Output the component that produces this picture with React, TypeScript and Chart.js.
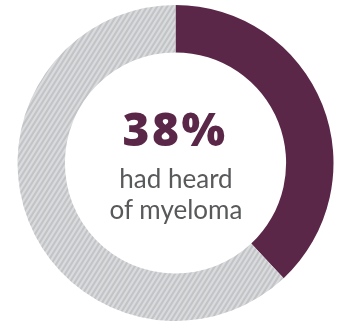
import React, { useEffect, useRef } from "react";
import { Chart, registerables } from "chart.js";

Chart.register(...registerables);

const categories = ["Had heard of myeloma", "Had not heard"];
const values = [38, 62];
const headline = "38%";
const subLines = ["had heard", "of myeloma"];

const PURPLE = "#5b2749";
const STRIPE_LIGHT = "#dadbdd";
const STRIPE_DARK = "#c3c4c7";
const TEXT_GREY = "#58595b";

function makeStripePattern(): CanvasPattern | string {
  const W = 5;
  const H = 8;
  const c = document.createElement("canvas");
  c.width = W;
  c.height = H;
  const ctx = c.getContext("2d");
  if (!ctx) return STRIPE_LIGHT;
  ctx.fillStyle = STRIPE_LIGHT;
  ctx.fillRect(0, 0, W, H);
  ctx.fillStyle = STRIPE_DARK;
  for (let k = -3; k <= 3; k++) {
    const ox = k * W;
    ctx.beginPath();
    ctx.moveTo(ox + 0, H);
    ctx.lineTo(ox + 2.5, H);
    ctx.lineTo(ox + 7.5, 0);
    ctx.lineTo(ox + 5, 0);
    ctx.closePath();
    ctx.fill();
  }
  const p = ctx.createPattern(c, "repeat");
  return p || STRIPE_LIGHT;
}

export default function App() {
  const ref = useRef<HTMLCanvasElement | null>(null);

  useEffect(() => {
    if (!ref.current) return;
    const pattern = makeStripePattern();
    const chart = new Chart(ref.current, {
      type: "doughnut",
      data: {
        labels: categories,
        datasets: [
          {
            data: values,
            backgroundColor: [PURPLE, pattern as any],
            hoverBackgroundColor: [PURPLE, pattern as any],
            borderWidth: 0,
          },
        ],
      },
      options: {
        animation: false,
        responsive: false,
        cutout: "70%",
        rotation: 0,
        layout: { padding: { left: 17, right: 10, top: 5, bottom: 0 } },
        plugins: {
          legend: { display: false },
          tooltip: { enabled: false },
        },
        events: [],
      },
    });
    return () => chart.destroy();
  }, []);

  return (
    <div
      style={{
        position: "fixed",
        left: 0,
        top: 0,
        width: 344,
        height: 321,
        overflow: "hidden",
        background: "#ffffff",
      }}
    >
      <canvas ref={ref} width={344} height={321} style={{ position: "absolute", left: 0, top: 0 }} />
      <div
        style={{
          position: "absolute",
          left: 0,
          width: 350,
          top: 105,
          textAlign: "center",
          fontFamily: "'Open Sans', Lato, sans-serif",
          fontWeight: 800,
          fontSize: 46,
          lineHeight: "46px",
          letterSpacing: 2.5,
          color: PURPLE,
          whiteSpace: "nowrap",
        }}
      >
        {headline}
      </div>
      <div
        style={{
          position: "absolute",
          left: 0,
          width: 352,
          top: 163,
          textAlign: "center",
          fontFamily: "Lato, 'Open Sans', sans-serif",
          fontWeight: 400,
          fontSize: 26,
          lineHeight: "31px",
          color: TEXT_GREY,
          whiteSpace: "nowrap",
        }}
      >
        {subLines.map((l) => (
          <div key={l}>{l}</div>
        ))}
      </div>
    </div>
  );
}
